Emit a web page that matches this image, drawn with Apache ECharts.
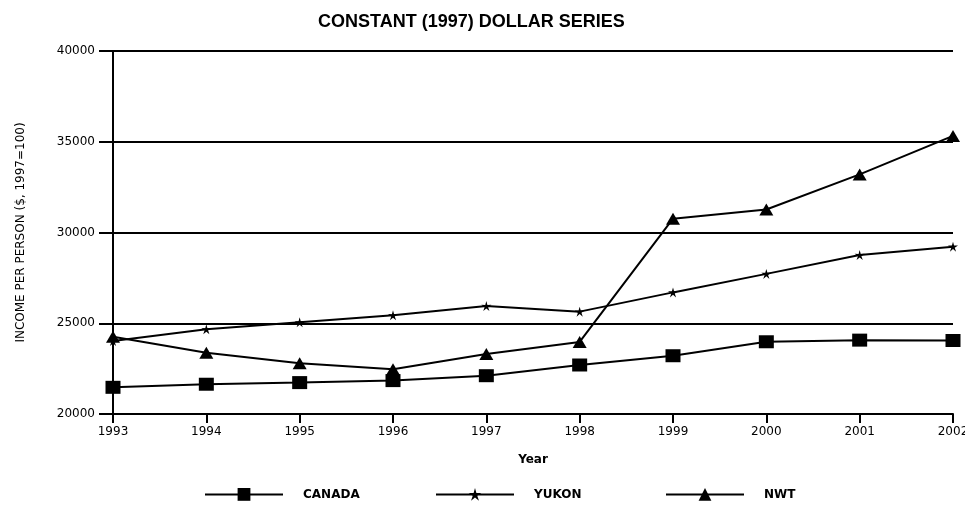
<!DOCTYPE html>
<html>
<head>
<meta charset="utf-8">
<script src="https://cdn.jsdelivr.net/npm/echarts@6/dist/echarts.min.js"></script>
<style>
  html, body { margin: 0; padding: 0; background: #fff; }
  #chart { width: 965px; height: 508px; }
</style>
</head>
<body>
<div id="chart"></div>
<script>
// values
var years = ['1993', '1994', '1995', '1996', '1997', '1998', '1999', '2000', '2001', '2002'];
var canada = [21470, 21640, 21730, 21840, 22110, 22700, 23210, 23980, 24070, 24050];
var yukon = [24020, 24670, 25050, 25440, 25950, 25640, 26700, 27720, 28760, 29220];
var nwt = [24260, 23380, 22800, 22460, 23310, 23970, 30760, 31270, 33200, 35320];
var yTicks = [20000, 25000, 30000, 35000, 40000];

var starPath = 'path://M10 0 L12.06 7.17 L19.51 6.91 L13.33 11.08 L15.88 18.09 L10 13.5 L4.12 18.09 L6.67 11.08 L0.49 6.91 L7.94 7.17 Z';
var font = 'Liberation Sans, Arial, sans-serif';
var wideFont = 'DejaVu Sans, sans-serif';

var chart = echarts.init(document.getElementById('chart'));

function legendAt(name, left) {
    return {
        data: [name],
        left: left,
        top: 483,
        itemWidth: 78,
        itemHeight: 16,
        textStyle: {
            fontFamily: wideFont,
            fontSize: 12,
            fontWeight: 'bold',
            color: '#000',
            padding: [0, 0, 0, 15]
        }
    };
}

var option = {
    animation: false,
    title: {
        text: 'CONSTANT (1997) DOLLAR SERIES',
        left: 313,
        top: 8,
        textStyle: {
            fontFamily: font,
            fontSize: 18,
            fontWeight: 'bold',
            color: '#000'
        }
    },
    legend: [
        legendAt('CANADA', 199),
        legendAt('YUKON', 430),
        legendAt('NWT', 660)
    ],
    grid: {
        left: 113,
        right: 12,
        top: 51,
        bottom: 94,
        outerBoundsMode: 'none'
    },
    xAxis: {
        type: 'category',
        data: years,
        boundaryGap: false,
        name: 'Year',
        nameLocation: 'middle',
        nameGap: 40,
        nameTextStyle: {
            fontFamily: wideFont,
            fontSize: 12,
            fontWeight: 'bold',
            color: '#000'
        },
        axisLine: { lineStyle: { color: '#000', width: 2 } },
        axisTick: { alignWithLabel: true, length: 9, lineStyle: { color: '#000', width: 2 } },
        axisLabel: {
            fontFamily: wideFont,
            fontSize: 12,
            color: '#000',
            margin: 12
        },
        splitLine: { show: false }
    },
    yAxis: {
        type: 'value',
        min: yTicks[0],
        max: yTicks[yTicks.length - 1],
        interval: 5000,
        name: 'INCOME PER PERSON ($, 1997=100)',
        nameLocation: 'middle',
        nameGap: 86,
        nameTextStyle: {
            fontFamily: wideFont,
            fontSize: 12,
            color: '#000'
        },
        axisLine: { show: true, lineStyle: { color: '#000', width: 2 } },
        axisTick: { show: true, length: 14, lineStyle: { color: '#000', width: 2 } },
        axisLabel: {
            fontFamily: wideFont,
            fontSize: 12,
            color: '#000',
            margin: 18,
            formatter: function (v) { return String(v); }
        },
        splitLine: { show: true, lineStyle: { color: '#000', width: 2 } }
    },
    series: [
        {
            name: 'CANADA',
            type: 'line',
            data: canada,
            symbol: 'rect',
            symbolSize: [15, 13],
            lineStyle: { color: '#000', width: 2 },
            itemStyle: { color: '#000' }
        },
        {
            name: 'YUKON',
            type: 'line',
            data: yukon,
            symbol: starPath,
            symbolSize: 10,
            lineStyle: { color: '#000', width: 2 },
            itemStyle: { color: '#000' }
        },
        {
            name: 'NWT',
            type: 'line',
            data: nwt,
            symbol: 'triangle',
            symbolSize: [14, 12],
            lineStyle: { color: '#000', width: 2 },
            itemStyle: { color: '#000' }
        }
    ]
};

chart.setOption(option);
</script>
</body>
</html>
